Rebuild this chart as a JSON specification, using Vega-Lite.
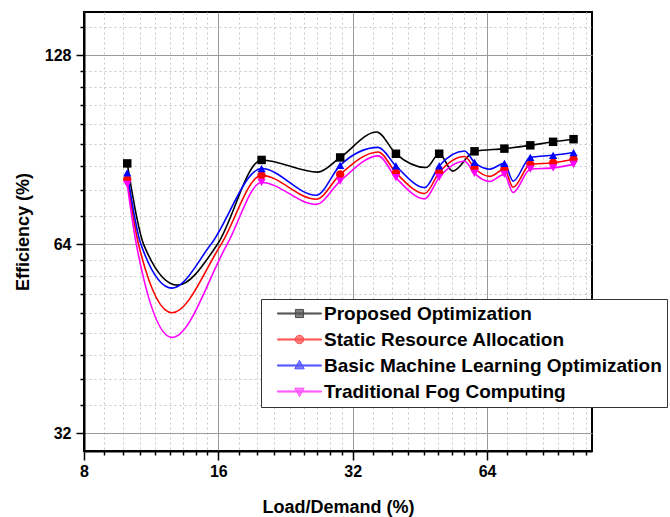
{
  "$schema": "https://vega.github.io/schema/vega-lite/v6.json",
  "width": 508,
  "height": 439,
  "autosize": {"type": "none"},
  "padding": {"left": 84, "top": 12, "right": 78, "bottom": 66},
  "background": "white",
  "config": {"font": "Liberation Sans", "view": {"stroke": "#000", "strokeWidth": 2}},
  "data": {"values": [
    {"series": "Proposed Optimization", "load": 10, "efficiency": 86.1, "measured": true},
    {"series": "Proposed Optimization", "load": 10.88, "efficiency": 64, "measured": false},
    {"series": "Proposed Optimization", "load": 12.95, "efficiency": 55.1, "measured": false},
    {"series": "Proposed Optimization", "load": 15.93, "efficiency": 64, "measured": false},
    {"series": "Proposed Optimization", "load": 20, "efficiency": 87.2, "measured": true},
    {"series": "Proposed Optimization", "load": 26.7, "efficiency": 83.4, "measured": false},
    {"series": "Proposed Optimization", "load": 30, "efficiency": 88.0, "measured": true},
    {"series": "Proposed Optimization", "load": 36.2, "efficiency": 96.6, "measured": false},
    {"series": "Proposed Optimization", "load": 40, "efficiency": 89.2, "measured": true},
    {"series": "Proposed Optimization", "load": 46.8, "efficiency": 84.8, "measured": false},
    {"series": "Proposed Optimization", "load": 50, "efficiency": 89.2, "measured": true},
    {"series": "Proposed Optimization", "load": 53.6, "efficiency": 83.7, "measured": false},
    {"series": "Proposed Optimization", "load": 60, "efficiency": 90.0, "measured": true},
    {"series": "Proposed Optimization", "load": 70, "efficiency": 90.9, "measured": true},
    {"series": "Proposed Optimization", "load": 80, "efficiency": 92.0, "measured": true},
    {"series": "Proposed Optimization", "load": 90, "efficiency": 93.2, "measured": true},
    {"series": "Proposed Optimization", "load": 100, "efficiency": 94.1, "measured": true},

    {"series": "Static Resource Allocation", "load": 10, "efficiency": 81.2, "measured": true},
    {"series": "Static Resource Allocation", "load": 10.6, "efficiency": 64, "measured": false},
    {"series": "Static Resource Allocation", "load": 12.6, "efficiency": 49.8, "measured": false},
    {"series": "Static Resource Allocation", "load": 16.23, "efficiency": 64, "measured": false},
    {"series": "Static Resource Allocation", "load": 20, "efficiency": 82.4, "measured": true},
    {"series": "Static Resource Allocation", "load": 26.5, "efficiency": 75.5, "measured": false},
    {"series": "Static Resource Allocation", "load": 30, "efficiency": 82.7, "measured": true},
    {"series": "Static Resource Allocation", "load": 36.5, "efficiency": 89.8, "measured": false},
    {"series": "Static Resource Allocation", "load": 40, "efficiency": 83.2, "measured": true},
    {"series": "Static Resource Allocation", "load": 46.4, "efficiency": 77.1, "measured": false},
    {"series": "Static Resource Allocation", "load": 50, "efficiency": 83.3, "measured": true},
    {"series": "Static Resource Allocation", "load": 57.0, "efficiency": 88.3, "measured": false},
    {"series": "Static Resource Allocation", "load": 60, "efficiency": 84.6, "measured": true},
    {"series": "Static Resource Allocation", "load": 64.9, "efficiency": 82.1, "measured": false},
    {"series": "Static Resource Allocation", "load": 70, "efficiency": 84.3, "measured": true},
    {"series": "Static Resource Allocation", "load": 73.2, "efficiency": 78.9, "measured": false},
    {"series": "Static Resource Allocation", "load": 80, "efficiency": 85.8, "measured": true},
    {"series": "Static Resource Allocation", "load": 90, "efficiency": 86.3, "measured": true},
    {"series": "Static Resource Allocation", "load": 100, "efficiency": 87.4, "measured": true},

    {"series": "Basic Machine Learning Optimization", "load": 10, "efficiency": 83.2, "measured": true},
    {"series": "Basic Machine Learning Optimization", "load": 10.73, "efficiency": 64, "measured": false},
    {"series": "Basic Machine Learning Optimization", "load": 12.6, "efficiency": 54.5, "measured": false},
    {"series": "Basic Machine Learning Optimization", "load": 15.4, "efficiency": 64, "measured": false},
    {"series": "Basic Machine Learning Optimization", "load": 20, "efficiency": 84.5, "measured": true},
    {"series": "Basic Machine Learning Optimization", "load": 26.5, "efficiency": 76.6, "measured": false},
    {"series": "Basic Machine Learning Optimization", "load": 30, "efficiency": 85.5, "measured": true},
    {"series": "Basic Machine Learning Optimization", "load": 36.5, "efficiency": 91.3, "measured": false},
    {"series": "Basic Machine Learning Optimization", "load": 40, "efficiency": 85.3, "measured": true},
    {"series": "Basic Machine Learning Optimization", "load": 46.4, "efficiency": 78.8, "measured": false},
    {"series": "Basic Machine Learning Optimization", "load": 50, "efficiency": 85.3, "measured": true},
    {"series": "Basic Machine Learning Optimization", "load": 57.0, "efficiency": 90.1, "measured": false},
    {"series": "Basic Machine Learning Optimization", "load": 60, "efficiency": 86.4, "measured": true},
    {"series": "Basic Machine Learning Optimization", "load": 64.9, "efficiency": 84.3, "measured": false},
    {"series": "Basic Machine Learning Optimization", "load": 70, "efficiency": 86.1, "measured": true},
    {"series": "Basic Machine Learning Optimization", "load": 73.2, "efficiency": 80.7, "measured": false},
    {"series": "Basic Machine Learning Optimization", "load": 80, "efficiency": 88.0, "measured": true},
    {"series": "Basic Machine Learning Optimization", "load": 90, "efficiency": 88.7, "measured": true},
    {"series": "Basic Machine Learning Optimization", "load": 100, "efficiency": 89.6, "measured": true},

    {"series": "Traditional Fog Computing", "load": 10, "efficiency": 79.7, "measured": true},
    {"series": "Traditional Fog Computing", "load": 10.48, "efficiency": 64, "measured": false},
    {"series": "Traditional Fog Computing", "load": 12.6, "efficiency": 45.5, "measured": false},
    {"series": "Traditional Fog Computing", "load": 16.74, "efficiency": 64, "measured": false},
    {"series": "Traditional Fog Computing", "load": 20, "efficiency": 80.3, "measured": true},
    {"series": "Traditional Fog Computing", "load": 26.5, "efficiency": 74.1, "measured": false},
    {"series": "Traditional Fog Computing", "load": 30, "efficiency": 80.7, "measured": true},
    {"series": "Traditional Fog Computing", "load": 36.5, "efficiency": 88.5, "measured": false},
    {"series": "Traditional Fog Computing", "load": 40, "efficiency": 81.7, "measured": true},
    {"series": "Traditional Fog Computing", "load": 46.4, "efficiency": 75.6, "measured": false},
    {"series": "Traditional Fog Computing", "load": 50, "efficiency": 81.8, "measured": true},
    {"series": "Traditional Fog Computing", "load": 57.0, "efficiency": 86.8, "measured": false},
    {"series": "Traditional Fog Computing", "load": 60, "efficiency": 83.0, "measured": true},
    {"series": "Traditional Fog Computing", "load": 64.9, "efficiency": 80.6, "measured": false},
    {"series": "Traditional Fog Computing", "load": 70, "efficiency": 82.7, "measured": true},
    {"series": "Traditional Fog Computing", "load": 73.2, "efficiency": 77.4, "measured": false},
    {"series": "Traditional Fog Computing", "load": 80, "efficiency": 84.3, "measured": true},
    {"series": "Traditional Fog Computing", "load": 90, "efficiency": 84.7, "measured": true},
    {"series": "Traditional Fog Computing", "load": 100, "efficiency": 85.8, "measured": true}
  ]},
  "encoding": {
    "x": {
      "field": "load", "type": "quantitative",
      "scale": {"type": "log", "base": 2, "domain": [8, 110], "nice": false},
      "axis": {
        "title": "Load/Demand (%)",
        "values": [8, 8.889, 9.778, 10.667, 11.556, 12.444, 13.333, 14.222, 15.111, 16, 17.778, 19.556, 21.333, 23.111, 24.889, 26.667, 28.444, 30.222, 32, 35.556, 39.111, 42.667, 46.222, 49.778, 53.333, 56.889, 60.444, 64, 71.111, 78.222, 85.333, 92.444, 99.556, 106.667],
        "labelExpr": "(datum.value == 8 || datum.value == 16 || datum.value == 32 || datum.value == 64) ? format(datum.value, 'd') : ''",
        "grid": true,
        "gridColor": {"condition": {"test": "datum.value == 16 || datum.value == 32 || datum.value == 64", "value": "#9a9a9a"}, "value": "#c8c8c8"},
        "gridDash": {"condition": {"test": "datum.value == 16 || datum.value == 32 || datum.value == 64", "value": []}, "value": [2, 3]},
        "gridWidth": 1,
        "tickSize": {"condition": {"test": "datum.value == 8 || datum.value == 16 || datum.value == 32 || datum.value == 64", "value": 9}, "value": 4},
        "tickColor": "#000", "tickWidth": 1.5,
        "domainColor": "#000", "domainWidth": 2,
        "labelFontSize": 16, "labelFontWeight": "bold", "labelColor": "#000",
        "labelPadding": 3, "labelFlush": false, "labelOverlap": false, "labelBound": false,
        "titleFontSize": 18, "titleFontWeight": "bold", "titleColor": "#000", "titlePadding": 19
      }
    },
    "y": {
      "field": "efficiency", "type": "quantitative",
      "scale": {"type": "log", "base": 2, "domain": [30, 150], "nice": false},
      "axis": {
        "title": "Efficiency (%)",
        "values": [32, 35.556, 39.111, 42.667, 46.222, 49.778, 53.333, 56.889, 60.444, 64, 71.111, 78.222, 85.333, 92.444, 99.556, 106.667, 113.778, 120.889, 128, 142.222],
        "labelExpr": "(datum.value == 32 || datum.value == 64 || datum.value == 128) ? format(datum.value, 'd') : ''",
        "grid": true,
        "gridColor": {"condition": {"test": "datum.value == 32 || datum.value == 64 || datum.value == 128", "value": "#9a9a9a"}, "value": "#c8c8c8"},
        "gridDash": {"condition": {"test": "datum.value == 32 || datum.value == 64 || datum.value == 128", "value": []}, "value": [2, 3]},
        "gridWidth": 1,
        "tickSize": {"condition": {"test": "datum.value == 32 || datum.value == 64 || datum.value == 128", "value": 8}, "value": 4},
        "tickColor": "#000", "tickWidth": 1.5,
        "domainColor": "#000", "domainWidth": 2,
        "labelFontSize": 16, "labelFontWeight": "bold", "labelColor": "#000",
        "labelPadding": 5, "labelOverlap": false, "labelBound": false, "labelFlush": false,
        "titleFontSize": 18, "titleFontWeight": "bold", "titleColor": "#000", "titlePadding": 12
      }
    },
    "color": {
      "field": "series", "type": "nominal",
      "scale": {
        "domain": ["Proposed Optimization", "Static Resource Allocation", "Basic Machine Learning Optimization", "Traditional Fog Computing"],
        "range": ["#000000", "#ff0000", "#0000ff", "#ff00ff"]
      },
      "legend": {
        "orient": "none", "legendX": 177, "legendY": 287,
        "title": null,
        "fillColor": "#ffffff", "strokeColor": "#333333",
        "padding": 5,
        "labelFontSize": 19, "labelFontWeight": "bold", "labelColor": "#000", "labelLimit": 0,
        "symbolSize": 324, "symbolOffset": 24, "labelOffset": 15, "rowPadding": 6,
        "symbolOpacity": 1, "symbolStrokeWidth": 1
      }
    }
  },
  "layer": [
    {"mark": {"type": "line", "interpolate": "monotone", "strokeWidth": 1.6}},
    {
      "transform": [{"filter": "false"}],
      "mark": {"type": "point", "filled": true, "size": 70},
      "encoding": {
        "shape": {
          "field": "series", "type": "nominal",
          "scale": {
            "domain": ["Proposed Optimization", "Static Resource Allocation", "Basic Machine Learning Optimization", "Traditional Fog Computing"],
            "range": [
              "M-2.44,-0.06H2.44V0.06H-2.44Z M-0.45,-0.45H0.45V0.45H-0.45Z",
              "M-2.44,-0.06H2.44V0.06H-2.44Z M0.47,0A0.47,0.47 0 1,1 -0.47,0A0.47,0.47 0 1,1 0.47,0Z",
              "M-2.44,-0.06H2.44V0.06H-2.44Z M0,-0.57L0.52,0.37L-0.52,0.37Z",
              "M-2.44,-0.06H2.44V0.06H-2.44Z M0,0.57L-0.52,-0.37L0.52,-0.37Z"
            ]
          }
        }
      }
    },
    {
      "transform": [{"filter": "datum.measured && datum.series === 'Proposed Optimization'"}],
      "mark": {"type": "point", "shape": "square", "filled": true, "size": 72, "opacity": 1}
    },
    {
      "transform": [{"filter": "datum.measured && datum.series === 'Static Resource Allocation'"}],
      "mark": {"type": "point", "shape": "circle", "filled": true, "size": 70, "opacity": 1}
    },
    {
      "transform": [{"filter": "datum.measured && datum.series === 'Basic Machine Learning Optimization'"}],
      "mark": {"type": "point", "shape": "triangle-up", "filled": true, "size": 70, "opacity": 1}
    },
    {
      "transform": [{"filter": "datum.measured && datum.series === 'Traditional Fog Computing'"}],
      "mark": {"type": "point", "shape": "triangle-down", "filled": true, "size": 70, "opacity": 1}
    }
  ]
}
